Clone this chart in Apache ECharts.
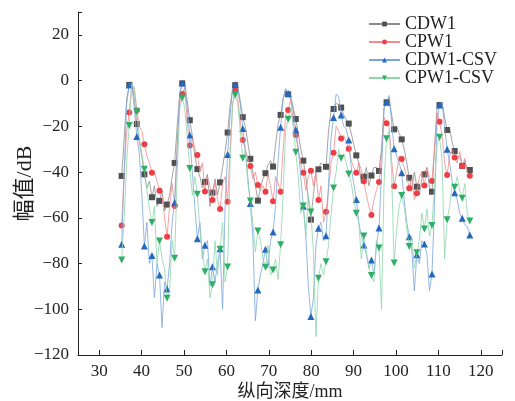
<!DOCTYPE html>
<html><head><meta charset="utf-8">
<script src="https://cdn.jsdelivr.net/npm/echarts@6/dist/echarts.min.js"></script>
<style>html,body{margin:0;padding:0;background:#fff}#c{width:515px;height:401px}</style>
</head><body><div id="c"></div>
<script>
// sampling of the depth axis (mm)
const depthStart = 35.3;
const depthStep = 0.595;
const markerEvery = 3;

const xTickValues = [30, 40, 50, 60, 70, 80, 90, 100, 110, 120];
const xTickMarks = [30, 40, 50, 60, 70, 80, 90, 100, 110, 120, 125];

const seriesNames = ['CDW1', 'CPW1', 'CDW1-CSV', 'CPW1-CSV'];

const cdw1 = [
-41.7,-25,-8, -1.9,-0.5,-8, -19,-27,-33, -41,-47,-44, -51,-46,-55, -52.6,-48,-57,
-54.2,-50,-42, -36,-20,-6, -1.2,-1,-9, -17.3,-24,-33, -38.7,-42,-47, -44.3,-41,-55,
-49,-43,-50, -44.5,-38,-31, -22.7,-11,-3.5, -2,-2.5,-9, -16,-20,-27, -34.2,-40,-46,
-52.5,-47,-43, -40.5,-37,-35, -37.6,-28,-19, -15,-8,-4, -6,-8,-12, -16.8,-23,-30,
-35,-42,-52, -60.8,-50,-40, -38.8,-36,-37, -37.7,-22,-13, -12.4,-10,-10.5, -11.8,-15,-17,
-18.8,-23,-28, -32.7,-36,-45, -42,-38,-46, -41.5,-38,-38, -39.5,-30,-12, -9.5,-7.5,-15,
-21.3,-20,-23, -25.7,-30,-36, -42.5,-48,-40, -46.4,-50,-43, -41,-38,-47, -48.6,-30,-12,
-10.7,-9.5,-16, -21.6,-21,-27, -30.8,-34,-33, -37.3,-35,-39, -39.1
];

const cpw1 = [
-63.4,-40,-22, -14,-2,-3, -13,-20,-22, -27.8,-33,-36, -40.3,-40,-44, -48.2,-50,-60,
-68.3,-55,-45, -54.8,-28,-10, -5.9,-3,-18, -28.4,-25,-30, -32.5,-40,-36, -48.5,-42,-46,
-52.2,-44,-52, -56.1,-45,-42, -53,-30,-10, -4,-7,-18, -26,-30,-34, -37.3,-43,-40,
-45.7,-48,-46, -48.6,-41,-46, -52.8,-42,-45, -48.6,-30,-15, -12.9,-8,-18, -23.8,-30,-36,
-40.3,-48,-42, -39.4,-46,-40, -52.2,-46,-62, -57.4,-48,-36, -31.5,-20,-22, -25.3,-24,-27,
-29.8,-35,-38, -40.3,-36,-39, -44,-50,-55, -58.8,-52,-48, -44.3,-32,-16, -18.7,-20,-35,
-46.2,-40,-33, -34.3,-38,-42, -47.1,-43,-52, -49.3,-42,-40, -45.9,-38,-42, -43.9,-30,-14,
-18,-24,-36, -41.3,-33,-30, -33.6,-36,-31, -37.3,-34,-40, -41.6
];

const cdw1Csv = [
-71.6,-40,-10, -1.9,-1,-12, -24.5,-32,-50, -72.3,-62,-80, -76.5,-95,-80, -85,-108,-88,
-91.1,-80,-62, -53.3,-30,-6, -1,-3,-12, -23.8,-40,-55, -69.2,-62,-78, -72,-70,-90,
-81.4,-88,-80, -73.5,-100,-55, -32.3,-15,-3, -1.7,-2.5,-10, -20.9,-30,-42, -53.7,-68,-105,
-91.6,-85,-80, -73.7,-82,-70, -66.2,-55,-35, -20.4,-8,-3.5, -5.6,-6,-13, -21.5,-30,-42,
-54.9,-68,-90, -103.2,-95,-72, -64.6,-62,-70, -67.9,-45,-25, -16.1,-6,-7, -15,-20,-21,
-26,-38,-45, -52,-62,-68, -71.9,-76,-82, -78.5,-85,-72, -64.5,-40,-12, -9.5,-6.5,-18,
-29.8,-33,-36, -40.3,-52,-62, -68.3,-74,-92, -76.2,-80,-70, -71.5,-76,-92, -84.6,-55,-18,
-10.7,-9.5,-20, -30,-36,-44, -49,-52,-58, -60.2,-63,-64, -67.5
];

const cpw1Csv = [
-78.5,-60,-35, -19.6,-1.5,-4, -13.6,-25,-32, -38.8,-48,-56, -62.1,-55,-80, -70.1,-78,-82,
-95.2,-92,-70, -77.7,-40,-12, -7.6,-12,-25, -38.4,-50,-42, -49.7,-65,-75, -83.6,-78,-95,
-89.3,-70,-85, -73.8,-62,-88, -81.5,-35,-10, -6.3,-10,-22, -34,-30,-45, -52.6,-62,-75,
-65.8,-70,-78, -81.6,-72,-85, -82.8,-78,-87, -71.8,-50,-22, -16.9,-12,-20, -31.3,-42,-58,
-54.8,-68,-50, -57.5,-75,-112, -86.4,-80,-85, -79.2,-72,-58, -47,-40,-30, -34,-32,-36,
-40.8,-45,-52, -58,-62,-78, -68,-75,-82, -85.2,-88,-70, -73.2,-100,-45, -25.4,-22,-40,
-79.8,-65,-55, -50.2,-55,-65, -72.5,-68,-82, -75.3,-70,-58, -64.9,-56,-68, -63.4,-45,-28,
-24.8,-35,-78, -60.9,-55,-45, -46.6,-42,-48, -51.4,-45,-58, -61.4
];

const depth = cdw1.map((_, i) => +(depthStart + depthStep * i).toFixed(3));

function build(vals) {
  return vals.map((v, i) => i % markerEvery === 0
    ? { value: [depth[i], v] }
    : { value: [depth[i], v], symbol: 'none' });
}

const serifFont = "'Liberation Serif', 'Times New Roman', serif";
const cjkFont = "'Liberation Serif', 'Noto Sans CJK SC', serif";
const minus = v => String(v).replace('-', '\u2212');

const styles = [
  { symbol: 'rect', size: 6, rot: 0, line: '#8c8c8c', mark: '#505050' },
  { symbol: 'circle', size: 6, rot: 0, line: '#f38a8d', mark: '#ee3e45' },
  { symbol: 'triangle', size: 7, rot: 0, line: '#78a6dc', mark: '#2468bf' },
  { symbol: 'triangle', size: 7, rot: 180, line: '#8fd6ac', mark: '#2fae66' }
];
const allData = [cdw1, cpw1, cdw1Csv, cpw1Csv];

const chart = echarts.init(document.getElementById('c'), null, { renderer: 'canvas' });
chart.setOption({
  animation: false,
  backgroundColor: '#fff',
  grid: { left: 78, right: 13, top: 12, bottom: 46, containLabel: false, outerBoundsMode: 'none' },
  legend: {
    orient: 'vertical', left: 363, top: 10,
    itemWidth: 31, itemHeight: 6, itemGap: 0,
    textStyle: { fontFamily: serifFont, fontSize: 18, color: '#222', lineHeight: 17 },
    data: seriesNames
  },
  xAxis: {
    type: 'value', min: 25, max: 125,
    name: '纵向深度/mm', nameLocation: 'middle', nameGap: 28, nameMoveOverlap: false,
    nameTextStyle: { fontFamily: cjkFont, fontSize: 18, color: '#222' },
    axisLine: { show: true, onZero: false, lineStyle: { color: '#222', width: 1 } },
    axisTick: { show: true, inside: true, length: 5, customValues: xTickMarks, lineStyle: { color: '#222' } },
    axisLabel: { customValues: xTickValues, margin: 8, fontFamily: serifFont, fontSize: 17, color: '#222' },
    splitLine: { show: false }
  },
  yAxis: {
    type: 'value', min: -120, max: 30, interval: 20,
    name: '幅值/dB', nameLocation: 'middle', nameGap: 42, nameMoveOverlap: false,
    nameTextStyle: { fontFamily: cjkFont, fontSize: 22, color: '#222' },
    axisLine: { show: true, onZero: false, lineStyle: { color: '#222', width: 1 } },
    axisTick: { show: true, inside: true, length: 4, lineStyle: { color: '#222' } },
    axisLabel: { margin: 9, fontFamily: serifFont, fontSize: 17, color: '#222',
      formatter: v => (v === 30 ? '' : minus(v)) },
    splitLine: { show: false }
  },
  series: seriesNames.map((name, s) => ({
    name, type: 'line',
    data: build(allData[s]),
    symbol: styles[s].symbol, symbolSize: styles[s].size, symbolRotate: styles[s].rot,
    showSymbol: true, showAllSymbol: true,
    lineStyle: { color: styles[s].line, width: 0.8 },
    itemStyle: { color: styles[s].mark },
    emphasis: { disabled: true },
    z: 2 + s
  }))
});
</script></body></html>
